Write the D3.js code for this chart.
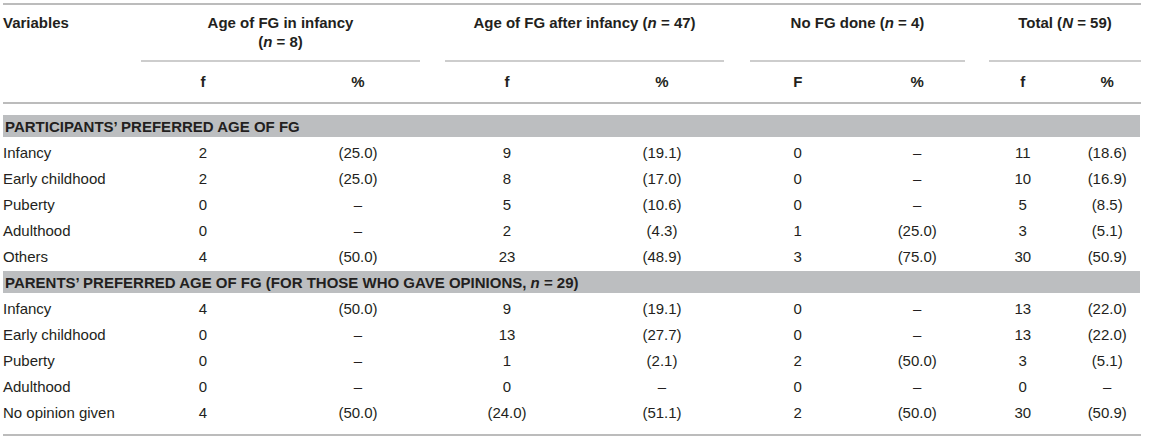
<!DOCTYPE html>
<html>
<head>
<meta charset="utf-8">
<script src="https://cdn.jsdelivr.net/npm/d3@7"></script>
<style>
  html, body { margin: 0; padding: 0; background: #fff; }
  svg { display: block; font-family: "Liberation Sans", Arial, Helvetica, sans-serif; }
  text { fill: #231f20; }
</style>
</head>
<body>
<svg id="chart" width="1163" height="441"></svg>
<script>
// ---------- DATA ----------
const groupTitles = ["Age of FG in infancy", "Age of FG after infancy", "No FG done", "Total"];
const groupNs = [["n", "8"], ["n", "47"], ["n", "4"], ["N", "59"]];
const subHeaders = [["f", "%"], ["f", "%"], ["F", "%"], ["f", "%"]];

const sectionTitles = [
  "PARTICIPANTS\u2019 PREFERRED AGE OF FG",
  "PARENTS\u2019 PREFERRED AGE OF FG (FOR THOSE WHO GAVE OPINIONS, "
];
const sectionN = [null, ["n", "29"]];

const participantRows = ["Infancy", "Early childhood", "Puberty", "Adulthood", "Others"];
const parentRows = ["Infancy", "Early childhood", "Puberty", "Adulthood", "No opinion given"];

// participants' preferred age (f, %) per group
const partInfancyF   = ["2", "2", "0", "0", "4"];
const partInfancyP   = ["(25.0)", "(25.0)", "\u2013", "\u2013", "(50.0)"];
const partAfterF     = ["9", "8", "5", "2", "23"];
const partAfterP     = ["(19.1)", "(17.0)", "(10.6)", "(4.3)", "(48.9)"];
const partNoneF      = ["0", "0", "0", "1", "3"];
const partNoneP      = ["\u2013", "\u2013", "\u2013", "(25.0)", "(75.0)"];
const partTotalF     = ["11", "10", "5", "3", "30"];
const partTotalP     = ["(18.6)", "(16.9)", "(8.5)", "(5.1)", "(50.9)"];

// parents' preferred age (f, %) per group
const parInfancyF    = ["4", "0", "0", "0", "4"];
const parInfancyP    = ["(50.0)", "\u2013", "\u2013", "\u2013", "(50.0)"];
const parAfterF      = ["9", "13", "1", "0", "(24.0)"];
const parAfterP      = ["(19.1)", "(27.7)", "(2.1)", "\u2013", "(51.1)"];
const parNoneF       = ["0", "0", "2", "0", "2"];
const parNoneP       = ["\u2013", "\u2013", "(50.0)", "\u2013", "(50.0)"];
const parTotalF      = ["13", "13", "3", "0", "30"];
const parTotalP      = ["(22.0)", "(22.0)", "(5.1)", "\u2013", "(50.9)"];

// ---------- LAYOUT ----------
const W = 1163;
const tableLeft = 3, tableRight = 1141;
const groupSpans = [[141, 420], [445, 724], [750, 965], [989, 1141]];
const lineColor = "#bcbcbc";
const bandColor = "#bcbec0";

const svg = d3.select("#chart");

// column scales per group
const colScales = groupSpans.map(s => d3.scalePoint().domain([0, 1]).range(s).padding(0.4));

// row scale
const rowKeys = ["s0"].concat(participantRows.map((d, i) => "a" + i), ["s1"], parentRows.map((d, i) => "b" + i));
const y = d3.scalePoint().domain(rowKeys).range([127, 413]);

// ---------- RULES ----------
function hline(x1, x2, yy, w) {
  svg.append("line").attr("x1", x1).attr("x2", x2).attr("y1", yy).attr("y2", yy)
    .attr("stroke", lineColor).attr("stroke-width", w);
}
hline(tableLeft, tableRight, 4, 2);
groupSpans.forEach(s => hline(s[0], s[1], 61, 1.5));
hline(tableLeft, tableRight, 103, 2);
hline(tableLeft, tableRight, 435, 2);

// ---------- HEADER ----------
const fs = 15;
svg.append("text").attr("x", tableLeft).attr("y", 23).attr("dy", "0.35em")
  .attr("font-size", fs).attr("font-weight", "bold").text("Variables");

groupTitles.forEach((t, i) => {
  const cx = (groupSpans[i][0] + groupSpans[i][1]) / 2;
  if (i === 0) {
    svg.append("text").attr("x", cx).attr("y", 23).attr("dy", "0.35em").attr("text-anchor", "middle")
      .attr("font-size", fs).attr("font-weight", "bold").text(t);
    const t2 = svg.append("text").attr("x", cx).attr("y", 42).attr("dy", "0.35em").attr("text-anchor", "middle")
      .attr("font-size", fs).attr("font-weight", "bold");
    t2.append("tspan").text("(");
    t2.append("tspan").attr("font-style", "italic").text(groupNs[i][0]);
    t2.append("tspan").text(" = " + groupNs[i][1] + ")");
  } else {
    const tt = svg.append("text").attr("x", cx).attr("y", 23).attr("dy", "0.35em").attr("text-anchor", "middle")
      .attr("font-size", fs).attr("font-weight", "bold");
    tt.append("tspan").text(t + " (");
    tt.append("tspan").attr("font-style", "italic").text(groupNs[i][0]);
    tt.append("tspan").text(" = " + groupNs[i][1] + ")");
  }
  subHeaders[i].forEach((h, j) => {
    svg.append("text").attr("x", colScales[i](j)).attr("y", 82).attr("dy", "0.35em")
      .attr("text-anchor", "middle").attr("font-size", fs).attr("font-weight", "bold").text(h);
  });
});

// ---------- SECTIONS ----------
sectionTitles.forEach((t, k) => {
  const yy = y("s" + k);
  svg.append("rect").attr("x", tableLeft).attr("y", yy - 12).attr("width", tableRight - tableLeft - 1)
    .attr("height", 22).attr("fill", bandColor);
  const tx = svg.append("text").attr("x", tableLeft + 2).attr("y", yy).attr("dy", "0.35em")
    .attr("font-size", fs).attr("font-weight", "bold");
  tx.append("tspan").text(t);
  if (sectionN[k]) {
    tx.append("tspan").attr("font-style", "italic").text(sectionN[k][0]);
    tx.append("tspan").text(" = " + sectionN[k][1] + ")");
  }
});

// ---------- BODY ----------
const sections = [
  { prefix: "a", labels: participantRows,
    cols: [partInfancyF, partInfancyP, partAfterF, partAfterP, partNoneF, partNoneP, partTotalF, partTotalP] },
  { prefix: "b", labels: parentRows,
    cols: [parInfancyF, parInfancyP, parAfterF, parAfterP, parNoneF, parNoneP, parTotalF, parTotalP] }
];

sections.forEach(sec => {
  const g = svg.append("g");
  g.selectAll("text.lab").data(sec.labels).join("text").attr("class", "lab")
    .attr("x", tableLeft).attr("y", (d, i) => y(sec.prefix + i)).attr("dy", "0.35em")
    .attr("font-size", fs).text(d => d);
  sec.cols.forEach((col, c) => {
    const gi = Math.floor(c / 2), sj = c % 2;
    g.selectAll("text.c" + c).data(col).join("text").attr("class", "c" + c)
      .attr("x", colScales[gi](sj)).attr("y", (d, i) => y(sec.prefix + i)).attr("dy", "0.35em")
      .attr("text-anchor", "middle").attr("font-size", fs).text(d => d);
  });
});
</script>
</body>
</html>
